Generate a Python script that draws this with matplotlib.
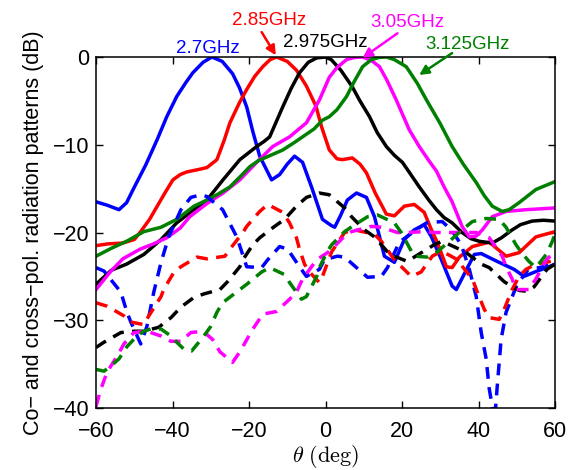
import matplotlib
matplotlib.use("Agg")
import matplotlib.pyplot as plt

plt.rcParams['font.family'] = ['Liberation Sans', 'DejaVu Sans']
plt.rcParams['mathtext.fontset'] = 'cm'

# co-polar patterns (solid)
th_b = [-60, -57, -54, -52, -50.3, -47, -44, -41.5, -38.9, -36.5, -34.7, -32, -29.7, -27, -24.3,
        -22.5, -20.6, -19, -17.2, -14.1, -12, -10, -8.1, -6, -3.5, -0.8, 1.5, 2.4, 4, 5.7, 8.1,
        10.7, 12.8, 15.4, 18, 20.6, 23.2, 25.8, 27.7, 30.3, 33.1, 34.2, 37.6, 38.9, 40.7, 44.9,
        49.3, 51.9, 55.3, 57.9, 60]
co_b = [-16.5, -16.9, -17.4, -16.6, -15.1, -12.3, -9.4, -6.8, -4.5, -2.9, -1.8, -0.6, 0, -0.5, -1.9,
        -3.5, -5.7, -8.5, -11.3, -14, -13.4, -12.2, -11.3, -12, -15, -18.5, -19.2, -19.4, -18, -16.3, -15.5,
        -16, -18.2, -22.7, -23.4, -20.8, -19.7, -19.1, -20.5, -23.1, -26.1, -26.5, -23.6, -22.5, -22.4, -23.3,
        -24.2, -25, -24.4, -24, -23.6]

th_r = [-60, -57, -53, -50, -48.5, -46, -44, -42, -39.9, -38, -36.3, -33, -31, -28.4, -26.5, -25,
        -22.5, -20.6, -18.5, -16.4, -14.5, -12.8, -10, -7.6, -5, -2.5, -1, 1, 3, 4.4, 7, 9, 10.7,
        13, 15.9, 18, 20.6, 23.2, 25.8, 27.7, 29.2, 31.6, 33.1, 35, 38.4, 42.8, 47.2, 50.6, 55, 60]
co_r = [-21.5, -21.3, -21.2, -20.8, -20, -18.5, -17, -15.5, -14, -13.4, -13.1, -12.8, -12.6, -11.7, -9.5, -7.5,
        -5.2, -3.7, -2.2, -1.1, -0.3, 0, -0.5, -1.5, -3.3, -5.6, -8, -10.6, -11.6, -11.7, -11.5, -12.2, -13.2,
        -15.5, -17.9, -18.1, -17, -16.8, -17.7, -19.7, -21.1, -23.9, -24, -22.8, -21.6, -21.1, -22.7, -22.3, -20.5, -19.9]

th_k = [-60, -56, -52, -47.5, -43, -38.9, -34.4, -31, -26.8, -22.4, -18, -16, -14.6, -13, -11.2, -9,
        -6.8, -4.5, -2.3, 0, 1.5, 4, 7, 9, 11.5, 13.5, 15.9, 18, 20.1, 22, 24.5, 27, 29, 31, 33.1,
        35.7, 38, 40.2, 43.6, 46, 48.8, 51, 54, 57, 60]
co_k = [-25.9, -24.3, -23.6, -22.5, -20.8, -18.9, -17.4, -16.3, -14, -11.7, -10.2, -9.6, -9.1, -7.5, -5.7, -3.6,
        -1.8, -0.6, -0.1, 0, -0.3, -1.5, -3.4, -5, -6.8, -8.6, -10.2, -11.2, -12, -13.2, -14.8, -16.3, -17.4, -18.3, -18.9,
        -20, -20.7, -21, -21.2, -20.6, -19.7, -19.1, -18.7, -18.6, -18.7]

th_m = [-60, -56.3, -53, -48.5, -45, -41.5, -38, -35.5, -31, -26.8, -22.4, -18, -13.8, -9.4, -5, -1.6,
        1, 3, 5.5, 7.5, 9.7, 12, 14.1, 16, 18.5, 21.9, 24.5, 27, 29, 31, 33.1, 34.5, 35.7, 37.6,
        39.4, 41, 43.6, 47.2, 52.4, 60]
co_m = [-26.5, -24.5, -23, -21.9, -21.3, -20.6, -19.5, -18.2, -16.7, -15.5, -14, -12, -10.2, -9.1, -7.5, -4.9,
        -2.3, -1.2, -0.3, -0.05, 0, -0.4, -1.1, -2.6, -4.9, -8.3, -10.2, -11.8, -13, -14.8, -16.5, -18, -19.3, -20.5,
        -20.4, -19.7, -18.2, -17.6, -17.4, -17.2]

th_g = [-60, -56, -52, -47.5, -43, -38.9, -34.4, -31, -28, -25, -22, -19.8, -17.5, -15.4, -11.2, -8,
        -6, -3, -0.8, 1, 3, 5.5, 7.5, 9.7, 12, 14, 15.9, 18, 21.1, 24, 26.4, 30, 33.1, 36, 39.4,
        41.5, 43.6, 46.2, 48, 50.6, 55, 60]
co_g = [-22.7, -21.8, -21, -19.9, -19.4, -18.5, -17, -16.3, -15.6, -14.8, -13.5, -12.5, -11.8, -11.4, -10.6, -9.7,
        -9.1, -8.2, -7.2, -6.8, -6, -4.5, -2.8, -1.1, -0.3, -0.05, 0, -0.3, -1.1, -3, -4.9, -7.6, -10.2, -12.2, -14.3,
        -15.8, -17, -17.6, -17.4, -16.6, -15.1, -14.2]

# cross-polar patterns (dashed)
thx_b = [-60, -57.9, -53.5, -51.9, -50.9, -48.3, -46.7, -44.9, -43, -41, -37.8, -35.2, -32.6, -31, -26.9,
         -23.2, -20.6, -16.7, -15.1, -12, -9.9, -6.8, -5, -1.6, -0.3, 3.1, 5, 9.4, 11, 14.6, 16.2, 19.3,
         23.7, 26.4, 30.5, 32.9, 35.5, 37.6, 39.4, 40.7, 42, 42.8, 43.6, 44.2, 44.9, 45.9, 47.2, 50,
         53, 56, 60]
cx_b = [-24, -24.4, -26.8, -29.1, -30.2, -32.7, -30.7, -26.8, -23.4, -20.5, -17.4, -16, -15.7, -15.9, -17.4,
        -20.5, -23.9, -24, -23.1, -21.6, -21.9, -23.9, -25, -24.2, -23.1, -22.7, -22.8, -24.5, -25.1, -25, -24, -21.1,
        -19.7, -18.9, -18.75, -19.7, -21.4, -24.2, -27.3, -31.4, -34.4, -37.8, -39.8, -41.5, -37.5, -32.2, -29.1, -26,
        -24.2, -24, -23.5]

thx_r = [-60, -57.1, -52.7, -50.9, -47.5, -46.2, -43, -42.3, -39.6, -37.8, -33.6, -31, -26.3, -25, -21.6,
         -20.6, -17.2, -15.1, -11.2, -9.4, -7.6, -6.8, -5.5, -4.2, -1.6, -0.8, 1.6, 5, 7.6, 12.8, 14.6,
         18, 22.4, 25, 27.9, 30, 32, 34.5, 36, 38.4, 39.7, 41.5, 42.8, 45.4, 46.7, 48.8, 50.6, 52.4,
         55, 60]
cx_r = [-28, -28.4, -29.5, -30.2, -30.5, -29.5, -27.3, -26.5, -24.5, -23.9, -22.8, -23, -22.7, -21.9, -20,
        -19.3, -17.6, -16.8, -17.7, -18.9, -20.6, -21.9, -23.6, -24.5, -25.7, -25, -22.2, -20, -19.7, -20.2, -21,
        -23.1, -25, -24.5, -22.7, -22.2, -22.5, -23.1, -24, -25.3, -26.8, -28.75, -29.7, -29.9, -28.75, -26.5, -25, -24.2,
        -23.6, -23.2]

thx_k = [-60, -57.9, -53.5, -50.1, -47.5, -43.6, -40.4, -37.8, -34.4, -31.8, -27.6, -25.6, -22.4, -21.6,
         -19, -17.2, -13.3, -10.7, -7.6, -5, -1.6, 1, 5, 6.8, 10.2, 12.8, 16.2, 18, 21.4, 23.2, 28.4,
         30.5, 35, 36.8, 40.7, 42.8, 46.7, 48.5, 50.6, 52.7, 54.5, 57.9, 60]
cx_k = [-33.1, -32.5, -31.4, -31.25, -31.25, -30.8, -29.7, -28.5, -27.4, -27, -26.5, -25.6, -23.9, -23.1,
        -21.4, -20.6, -19.3, -18.5, -17, -16, -15.5, -15.7, -17.2, -18.2, -19.7, -20.5, -22.2, -22.7, -23.3, -22.8, -21.4,
        -21, -21.9, -22.3, -23.6, -24, -25.6, -26.1, -26.6, -26.7, -26.2, -24.2, -23.6]

thx_g = [-60, -57.9, -56.1, -54, -51.9, -49.3, -47.5, -45.7, -43, -40.4, -38.9, -37, -35, -31.8, -30,
         -28.4, -26.9, -23, -20.6, -16.7, -14.6, -10.7, -9.4, -6.3, -5, -2.3, -1.6, 0.3, 1.6, 5, 7,
         11, 13.6, 18, 19.8, 21.9, 23.2, 26.6, 29.2, 32.4, 35.7, 38.4, 42, 45.4, 47.2, 49.8, 51.1,
         53.2, 55, 57.7, 59.2, 60]
cx_g = [-35.6, -35.8, -35.2, -34.4, -33, -31.8, -31.25, -31, -31, -31.8, -32.5, -33.3, -33.5, -31.8, -30.7,
        -29.1, -28, -26.7, -25.9, -24.5, -24, -24.8, -25.7, -27.6, -27.3, -25, -24, -22.3, -21.4, -19.9, -19.3,
        -18.2, -18, -18.9, -20, -21.7, -22.7, -22.8, -22.2, -21, -19.7, -18.75, -18.4, -18.5, -19.4, -21.4, -22.2,
        -23.3, -24, -22.5, -21.1, -20.2]

thx_m = [-60, -58.7, -57.1, -54.5, -52.7, -50.1, -46.7, -43, -40.4, -37.8, -35.2, -32, -29.5, -27.6, -24.3,
         -22.4, -19, -16.4, -12.8, -9.4, -7.6, -6, -2.3, 0.5, 1.6, 5, 6.8, 12, 14.6, 18.8, 21.4, 25.8,
         28.4, 36.8, 39.4, 42.8, 46.2, 47.2, 48.8, 49.8, 53.2, 55, 57.7, 60]
cx_m = [-39.8, -37.8, -35.9, -34.1, -32.7, -31.4, -31.25, -31.8, -32.4, -32.4, -31.4, -31.25, -32.2, -33.6, -34.8,
        -33.6, -31, -29.3, -29, -27.6, -26.8, -25.3, -23.1, -22.3, -21.9, -20.4, -19.9, -19.3, -19.4, -20, -20, -19.9,
        -20, -20, -20, -20.6, -22.7, -23.9, -25.3, -26.5, -26.5, -25.3, -23.1, -22.2]

colors = ['#0000ff', '#ff0000', '#000000', '#ff00ff', '#008000']
co_sets = [(th_b, co_b), (th_r, co_r), (th_k, co_k), (th_m, co_m), (th_g, co_g)]
cx_sets = [(thx_b, cx_b), (thx_r, cx_r), (thx_k, cx_k), (thx_m, cx_m), (thx_g, cx_g)]

fig = plt.figure(figsize=(5.77, 4.70), dpi=100)
ax = fig.add_axes([0.1664, 0.1319, 0.7955, 0.7468])

lw = 2.5
for (th, v), c in zip(co_sets, colors):
    ax.plot(th, v, color=c, lw=lw, solid_joinstyle='round')
for (th, v), c in zip(cx_sets, colors):
    ax.plot(th, v, color=c, lw=lw, linestyle=(0, (3.4, 2.4)))

ax.set_xlim(-60, 60)
ax.set_ylim(-40, 0)
ax.set_xticks([-60, -40, -20, 0, 20, 40, 60])
ax.set_yticks([-40, -30, -20, -10, 0])
ax.tick_params(direction='in', top=True, right=True, length=5, width=1, labelsize=15.5)
ax.tick_params(axis='x', pad=9)
ax.tick_params(axis='y', pad=5)
for s in ax.spines.values():
    s.set_linewidth(1.1)

ax.set_xlabel(r'$\theta\ \mathrm{(deg)}$', fontsize=16, labelpad=1)
ax.set_ylabel('Co\u2212 and cross\u2212pol. radiation patterns (dB)', fontsize=15.5, labelpad=6)

# frequency labels
tsize = 13.5
ax.text(-30.8, 0.45, '2.7GHz', color='#0000ff', fontsize=tsize, ha='center', va='baseline', clip_on=False)
ax.text(-14.7, 3.64, '2.85GHz', color='#ff0000', fontsize=tsize, ha='center', va='baseline', clip_on=False)
ax.text(-0.1, 1.14, '2.975GHz', color='#000000', fontsize=tsize, ha='center', va='baseline', clip_on=False)
ax.text(21.3, 3.41, '3.05GHz', color='#ff00ff', fontsize=tsize, ha='center', va='baseline', clip_on=False)
ax.text(37.2, 0.91, '3.125GHz', color='#008000', fontsize=tsize, ha='center', va='baseline', clip_on=False)

arrow = dict(arrowstyle='-|>', lw=1.8, mutation_scale=14, shrinkA=0, shrinkB=0)
ax.annotate('', xy=(-13, 0.2), xytext=(-16.7, 2.84), annotation_clip=False,
            arrowprops=dict(arrow, color='#ff0000'))
ax.annotate('', xy=(9.7, -0.1), xytext=(18.8, 2.7), annotation_clip=False,
            arrowprops=dict(arrow, color='#ff00ff'))
ax.annotate('', xy=(24.5, -2.05), xytext=(33.1, 0.45), annotation_clip=False,
            arrowprops=dict(arrow, color='#008000'))

fig.savefig('out.png', dpi=100)
